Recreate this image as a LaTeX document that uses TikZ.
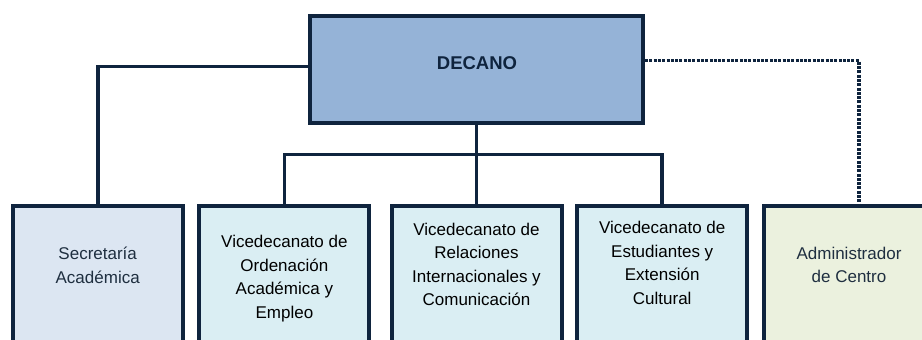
\documentclass[tikz,border=0pt]{standalone}
\usepackage{fontspec}
\setmainfont{Liberation Sans}
\usepackage{tikz}
\usetikzlibrary{positioning}

\definecolor{navy}{HTML}{0F243E}
\definecolor{slate}{HTML}{1F2F40}
\definecolor{decfill}{HTML}{95B3D7}
\definecolor{secfill}{HTML}{DCE6F2}
\definecolor{vicefill}{HTML}{DAEEF3}
\definecolor{admfill}{HTML}{EBF1DE}

\begin{document}
\begin{tikzpicture}[x=1pt, y=-1pt,
  unit/.style={draw=navy, line width=4pt, minimum width=170pt, minimum height=200pt, anchor=north, inner sep=0pt},
  lbl/.style={align=center, font=\fontsize{17}{23.5}\selectfont, text=slate},
  vlbl/.style={lbl, text=black},
  link/.style={draw=navy, line width=3.6pt},
  dotlink/.style={draw=navy, line width=3.6pt, dash pattern=on 3pt off 1.3pt}
]
  \clip (0,0) rectangle (922,340);
  % Top box
  \node[unit, fill=decfill, minimum width=333.5pt, minimum height=106.8pt, anchor=center] (decano) at (476.3,69.1) {};
  \node[font=\fontsize{18.5}{22}\selectfont\bfseries, text=navy] (decano-txt) at (477,63) {DECANO};
  % Lower boxes
  \node[unit, fill=secfill] (secre) at (97.7,203.5) {};
  \node[unit, fill=vicefill] (ordena) at (284.4,203.5) {};
  \node[unit, fill=vicefill] (relac) at (476.5,203.5) {};
  \node[unit, fill=vicefill] (estud) at (662.2,203.5) {};
  \node[unit, fill=admfill, minimum width=190pt] (admin) at (858.8,204) {};
  \node[lbl] (secre-txt) at (97.7,265.5) {Secretaría\\Académica};
  \node[vlbl] (ordena-txt) at (284.4,278.5) {Vicedecanato de\\Ordenación\\Académica y\\Empleo};
  \node[vlbl] (relac-txt) at (476.5,264.5) {Vicedecanato de\\Relaciones\\Internacionales y\\Comunicación};
  \node[vlbl] (estud-txt) at (662.2,263) {Vicedecanato de\\Estudiantes y\\Extensión\\Cultural};
  \node[lbl] (admin-txt) at (849,265) {Administrador\\de Centro};
  % Connectors
  \coordinate (bus) at (476.5,154.3);
  \draw[link] ([yshift=2.6pt]decano.west) -| (secre.north);
  \draw[dotlink] ([yshift=8.6pt]decano.east) -| (admin.north);
  \draw[link] (relac.north |- decano.south) -- (relac.north);
  \draw[link] (ordena.north) |- (bus) -| (estud.north);
\end{tikzpicture}
\end{document}
